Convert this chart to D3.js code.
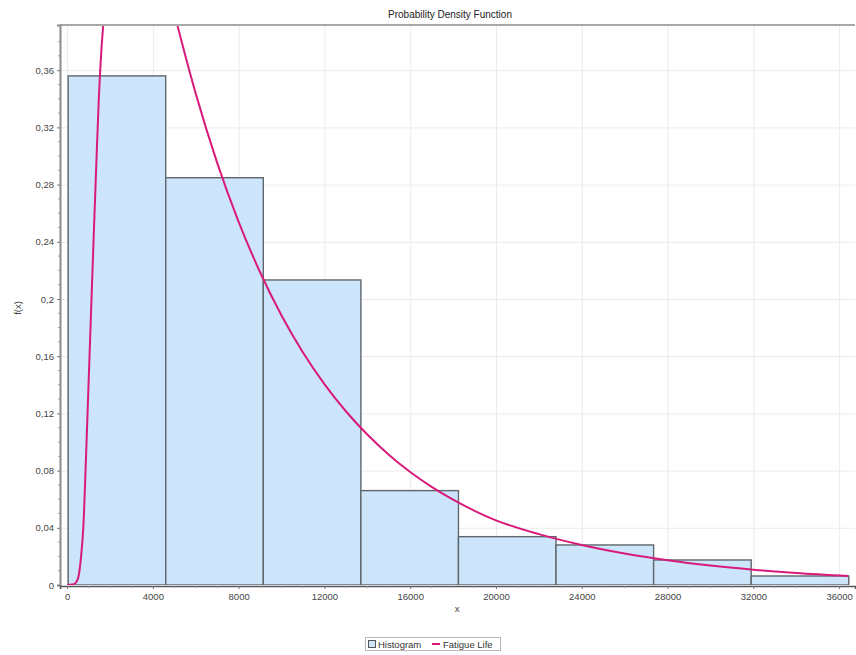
<!DOCTYPE html>
<html>
<head>
<meta charset="utf-8">
<script src="https://cdn.jsdelivr.net/npm/d3@7"></script>
<style>
  html, body { margin: 0; padding: 0; background: #fff; }
  svg { display: block; font-family: "Liberation Sans", Arial, sans-serif; }
</style>
</head>
<body>
<svg id="chart" width="856" height="655"></svg>
<script>
// Histogram bins (edges) and relative frequencies
const binEdges = [50, 4600, 9150, 13700, 18250, 22800, 27350, 31900, 36450];
const binFreq  = [0.356, 0.2848, 0.2133, 0.066, 0.0338, 0.028, 0.0175, 0.0063];

// Fitted Fatigue Life (Birnbaum-Saunders) density, sampled points
const pdfX = [0, 250, 400, 530, 650, 760, 880, 1000, 1120, 1240, 1360, 1480, 1600, 1700,
              1850, 2050, 2300, 2700, 3100, 3600, 4200, 4700, 5142, 6000, 7000, 8000,
              9000, 10000, 11000, 12000, 13000, 14000, 15000, 16000, 17000, 18000, 19000,
              20000, 22000, 24000, 26000, 28000, 30000, 32000, 34000, 36424];
const pdfY = [0, 0.0003, 0.0015, 0.0058, 0.0195, 0.041, 0.088, 0.140, 0.192, 0.243, 0.293, 0.340, 0.374, 0.394,
              0.418, 0.442, 0.462, 0.476, 0.474, 0.46, 0.438, 0.418, 0.3916, 0.3436, 0.2952, 0.2540,
              0.2187, 0.1885, 0.1626, 0.1405, 0.1215, 0.1052, 0.0911, 0.0790, 0.0686, 0.0597, 0.0519,
              0.0452, 0.0356, 0.0280, 0.0220, 0.0173, 0.0136, 0.0107, 0.0084, 0.0063];

// Axis ticks
const xTicks = [0, 4000, 8000, 12000, 16000, 20000, 24000, 28000, 32000, 36000];
const yTicks = [0, 0.04, 0.08, 0.12, 0.16, 0.2, 0.24, 0.28, 0.32, 0.36];
const yTickLabels = ["0", "0,04", "0,08", "0,12", "0,16", "0,2", "0,24", "0,28", "0,32", "0,36"];

const title = "Probability Density Function";
const seriesNames = ["Histogram", "Fatigue Life"];

const svg = d3.select("#chart");
const plot = { left: 60, right: 855, top: 25, bottom: 585 };

const x = d3.scaleLinear().domain([-330, 36740]).range([plot.left, plot.right]);
const y = d3.scaleLinear().domain([0, 0.3916]).range([plot.bottom, plot.top]);

const fillColor = "#cde5fb";
const barStroke = "#5f666c";
const lineColor = "#d81b7b";
const textColor = "#444";

// Plot background
svg.append("rect")
  .attr("x", plot.left).attr("y", plot.top)
  .attr("width", plot.right - plot.left).attr("height", plot.bottom - plot.top)
  .attr("fill", "#fff");

// Gridlines
const grid = svg.append("g").attr("stroke", "#ebebeb").attr("stroke-width", 1);
grid.selectAll("line.v").data(xTicks).join("line")
  .attr("x1", d => x(d) + 0.5).attr("x2", d => x(d) + 0.5)
  .attr("y1", plot.top).attr("y2", plot.bottom);
grid.selectAll("line.h").data(yTicks.slice(1)).join("line")
  .attr("x1", plot.left).attr("x2", plot.right)
  .attr("y1", d => y(d) + 0.5).attr("y2", d => y(d) + 0.5);

// Clip region for the plot contents
svg.append("clipPath").attr("id", "plotClip")
  .append("rect")
  .attr("x", plot.left).attr("y", plot.top)
  .attr("width", plot.right - plot.left).attr("height", plot.bottom - plot.top);

const content = svg.append("g").attr("clip-path", "url(#plotClip)");

// Histogram bars
const bins = binFreq.map((f, i) => ({ x0: binEdges[i], x1: binEdges[i + 1], f }));
content.selectAll("rect.bar").data(bins).join("rect")
  .attr("class", "bar")
  .attr("x", d => x(d.x0))
  .attr("y", d => y(d.f))
  .attr("width", d => x(d.x1) - x(d.x0))
  .attr("height", d => y(0) - y(d.f))
  .attr("fill", fillColor)
  .attr("stroke", barStroke)
  .attr("stroke-width", 1.4);

// Density curve
const pts = pdfX.map((v, i) => [v, pdfY[i]]);
const line = d3.line().x(d => x(d[0])).y(d => y(d[1])).curve(d3.curveMonotoneX);
content.append("path")
  .datum(pts)
  .attr("d", line)
  .attr("fill", "none")
  .attr("stroke", lineColor)
  .attr("stroke-width", 2);

// Plot border (top)
svg.append("line")
  .attr("x1", plot.left).attr("x2", plot.right)
  .attr("y1", plot.top).attr("y2", plot.top)
  .attr("stroke", "#a8a8a8").attr("stroke-width", 2);

// Y axis
const yAxis = d3.axisLeft(y).tickValues(yTicks)
  .tickFormat((d, i) => yTickLabels[i]).tickSize(3).tickPadding(3);
const gy = svg.append("g").attr("transform", `translate(${plot.left},0)`).call(yAxis);
gy.select(".domain").attr("stroke", "#8c8c8c").attr("stroke-width", 2);
gy.selectAll(".tick line").attr("stroke", "#777");
gy.selectAll(".tick text").attr("fill", textColor).style("font-size", "9.5px")
  .style("font-family", "'Liberation Sans', Arial, sans-serif");

// Y minor ticks
const yMinor = d3.range(0.01, 0.39, 0.01).filter(v => Math.abs(Math.round(v * 25) - v * 25) > 1e-6);
svg.append("g").selectAll("line").data(yMinor).join("line")
  .attr("x1", plot.left - 2).attr("x2", plot.left)
  .attr("y1", d => y(d)).attr("y2", d => y(d))
  .attr("stroke", "#999").attr("stroke-width", 1);

// X axis
const xAxis = d3.axisBottom(x).tickValues(xTicks).tickFormat(d3.format("d")).tickSize(3).tickPadding(4);
const gx = svg.append("g").attr("transform", `translate(0,${plot.bottom + 1})`).call(xAxis);
gx.select(".domain").attr("stroke", "#555").attr("stroke-width", 1.5);
gx.selectAll(".tick line").attr("stroke", "#777");
gx.selectAll(".tick text").attr("fill", textColor).style("font-size", "9.5px")
  .style("font-family", "'Liberation Sans', Arial, sans-serif");

// X minor ticks
const xMinor = d3.range(1000, 36700, 1000).filter(v => v % 4000 !== 0);
svg.append("g").selectAll("line").data(xMinor).join("line")
  .attr("x1", d => x(d)).attr("x2", d => x(d))
  .attr("y1", plot.bottom + 1).attr("y2", plot.bottom + 3)
  .attr("stroke", "#999").attr("stroke-width", 1);

// Title
svg.append("text")
  .attr("x", 450).attr("y", 18)
  .attr("text-anchor", "middle")
  .attr("fill", "#222")
  .style("font-size", "10px")
  .text(title);

// Axis titles
svg.append("text")
  .attr("x", 457).attr("y", 612)
  .attr("text-anchor", "middle")
  .attr("fill", textColor)
  .style("font-size", "9.5px")
  .text("x");

svg.append("text")
  .attr("transform", "translate(21,308) rotate(-90)")
  .attr("text-anchor", "middle")
  .attr("fill", textColor)
  .style("font-size", "9.5px")
  .text("f(x)");

// Legend
const legend = svg.append("g").attr("transform", "translate(365,637)");
legend.append("rect")
  .attr("x", 0.5).attr("y", 0.5).attr("width", 135).attr("height", 13)
  .attr("fill", "#fff").attr("stroke", "#b8b8b8").attr("stroke-width", 1);
legend.append("rect")
  .attr("x", 3.5).attr("y", 3.5).attr("width", 7).attr("height", 7)
  .attr("fill", fillColor).attr("stroke", "#555").attr("stroke-width", 1);
legend.append("text")
  .attr("x", 13).attr("y", 10.5)
  .attr("fill", "#333").style("font-size", "9.5px")
  .text(seriesNames[0]);
legend.append("line")
  .attr("x1", 67).attr("x2", 75).attr("y1", 7).attr("y2", 7)
  .attr("stroke", lineColor).attr("stroke-width", 2);
legend.append("text")
  .attr("x", 78).attr("y", 10.5)
  .attr("fill", "#333").style("font-size", "9.5px")
  .text(seriesNames[1]);
</script>
</body>
</html>
